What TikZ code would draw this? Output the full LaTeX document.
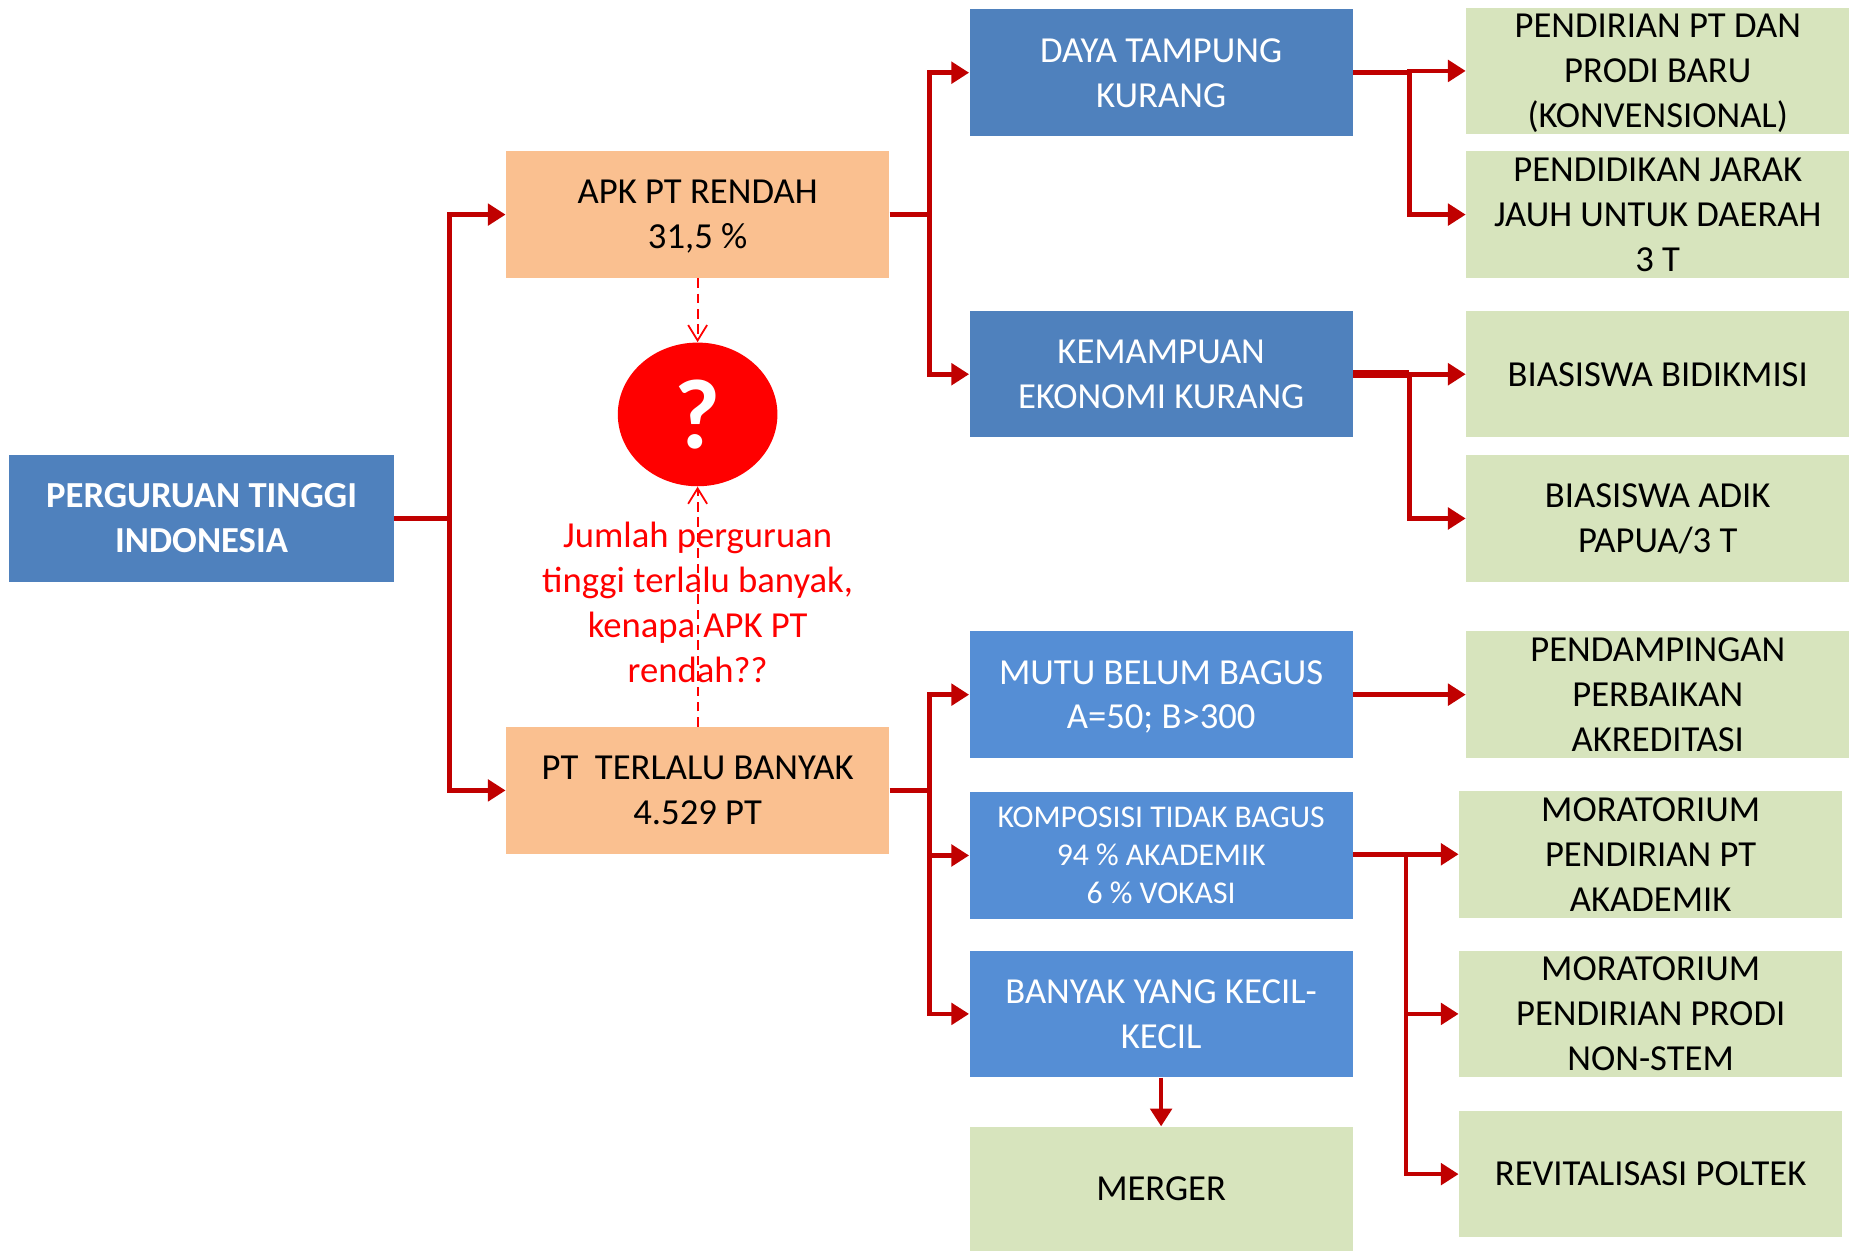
\documentclass[tikz,border=0pt]{standalone}
\usepackage{fontspec}
\setmainfont{Carlito}
\usetikzlibrary{arrows.meta,shapes.geometric}
\definecolor{boxblue}{HTML}{4F81BD}
\definecolor{boxblueb}{HTML}{558ED5}
\definecolor{peach}{HTML}{FAC090}
\definecolor{sage}{HTML}{D7E4BD}
\definecolor{darkred}{HTML}{C00000}
\definecolor{brightred}{HTML}{FF0000}
\def\mysht{14.5pt}
\def\mysdp{4.5pt}
\newcommand{\mystrut}{\rule[-\mysdp]{0pt}{\dimexpr\mysht+\mysdp\relax}}
\begin{document}
\begin{tikzpicture}[x=0.5pt,y=-0.5pt,
  base/.style={rectangle, minimum width=162pt, minimum height=53.5pt, inner sep=0pt, align=center, font=\fontsize{15.5}{19}\selectfont,
    execute at begin node=\mystrut, execute at end node=\mystrut},
  blueA/.style={base, fill=boxblue, text=white},
  blueB/.style={base, fill=boxblueb, text=white},
  peachbox/.style={base, fill=peach, text=black},
  greenbox/.style={base, fill=sage, text=black},
  threeline/.style={/utils/exec={\def\mysht{12.75pt}\def\mysdp{2.75pt}}},
  smalltext/.style={font=\fontsize{13.4}{16}\selectfont, /utils/exec={\def\mysht{12.3pt}\def\mysdp{3.7pt}}},
  conn/.style={draw=darkred, line width=2pt},
  connarr/.style={conn, -{Triangle[length=7.5pt,width=9pt]}},
  dasharr/.style={draw=brightred, line width=0.75pt, dash pattern=on 4pt off 2.5pt, -{Straight Barb[length=6.5pt,width=8pt]}},
]
\useasboundingbox (0,0) rectangle (1568,1058);

% left column
\node[blueA, minimum width=162.5pt, font=\fontsize{15.5}{19}\selectfont\bfseries] (pti) at (170.5,438.5) {\mystrut PERGURUAN TINGGI\\INDONESIA};
\node[peachbox] (apk) at (590,181.5) {\mystrut APK PT RENDAH\\31,5 \%};
\node[peachbox] (ptb) at (590,668.5) {\mystrut PT\ \ TERLALU BANYAK\\4.529 PT};
\node[ellipse, fill=brightred, minimum width=67.5pt, minimum height=60.75pt, inner sep=0pt, text=white, font=\fontsize{42}{50}\selectfont\bfseries] (q) at (590,350.5) {?};
\node[text=brightred, align=center, inner sep=0pt, font=\fontsize{15.5}{19}\selectfont,
  execute at begin node=\mystrut, execute at end node=\mystrut] (note) at (590,510) {\mystrut Jumlah perguruan\\tinggi terlalu banyak,\\kenapa APK PT\\rendah??};

% middle column
\node[blueA] (daya) at (982,61.5) {\mystrut DAYA TAMPUNG\\KURANG};
\node[blueA] (kemampuan) at (982,316.5) {\mystrut KEMAMPUAN\\EKONOMI KURANG};
\node[blueB] (mutu) at (982,587.5) {\mystrut MUTU BELUM BAGUS\\A=50; B>300};
\node[blueB, smalltext] (komp) at (982,723.5) {\mystrut KOMPOSISI TIDAK BAGUS\\94 \% AKADEMIK\\6 \% VOKASI};
\node[blueB] (kecil) at (982,857.5) {\mystrut BANYAK YANG KECIL-\\KECIL};
\node[greenbox, minimum height=52.5pt] (merger) at (982,1005.5) {MERGER};

% right column
\node[greenbox, threeline] (g1) at (1402,60) {\mystrut PENDIRIAN PT DAN\\PRODI BARU\\(KONVENSIONAL)};
\node[greenbox, threeline] (g2) at (1402,181.5) {\mystrut PENDIDIKAN JARAK\\JAUH UNTUK DAERAH\\3 T};
\node[greenbox] (g3) at (1402,316.5) {BIASISWA BIDIKMISI};
\node[greenbox] (g4) at (1402,438.5) {\mystrut BIASISWA ADIK\\PAPUA/3 T};
\node[greenbox, threeline] (g5) at (1402,587.5) {\mystrut PENDAMPINGAN\\PERBAIKAN\\AKREDITASI};
\node[greenbox, threeline] (g6) at (1396,722.5) {\mystrut MORATORIUM\\PENDIRIAN PT\\AKADEMIK};
\node[greenbox, threeline] (g7) at (1396,857.5) {\mystrut MORATORIUM\\PENDIRIAN PRODI\\NON-STEM};
\node[greenbox] (g8) at (1396,993) {REVITALISASI POLTEK};

% connectors
\coordinate (j1) at (380,438.5);
\draw[conn] (pti.east) -- (j1);
\draw[connarr] (j1) |- (apk.west);
\draw[connarr] (j1) |- (ptb.west);

\coordinate (j2) at (786,181.5);
\draw[conn] (apk.east) -- (j2);
\draw[connarr] (j2) |- (daya.west);
\draw[connarr] (j2) |- (kemampuan.west);

\coordinate (j3) at (1192,61.5);
\draw[conn] (daya.east) -- (j3);
\draw[connarr] (j3) |- (g1.west);
\draw[connarr] (j3) |- (g2.west);

\coordinate (j4) at (1192,316.5);
\draw[conn, line width=3.5pt] (kemampuan.east) -- (j4);
\draw[connarr] (j4) -- (g3.west);
\draw[connarr] (j4) |- (g4.west);

\coordinate (j5) at (786,668.5);
\draw[conn] (ptb.east) -- (j5);
\draw[connarr] (j5) |- (mutu.west);
\draw[connarr] (j5) |- (komp.west);
\draw[connarr] (j5) |- (kecil.west);

\draw[connarr] (mutu.east) -- (g5.west);

\coordinate (j6) at (1189,722.5);
\draw[conn] (komp.east |- j6) -- (j6);
\draw[connarr] (j6) -- (g6.west);
\draw[connarr] (j6) |- (g7.west);
\draw[connarr] (j6) |- (g8.west);

\draw[connarr] (kecil.south) -- (merger.north);

% dashed question links
\draw[dasharr] (apk.south) -- (q.north);
\draw[dasharr] (ptb.north) -- (q.south);
\end{tikzpicture}
\end{document}
